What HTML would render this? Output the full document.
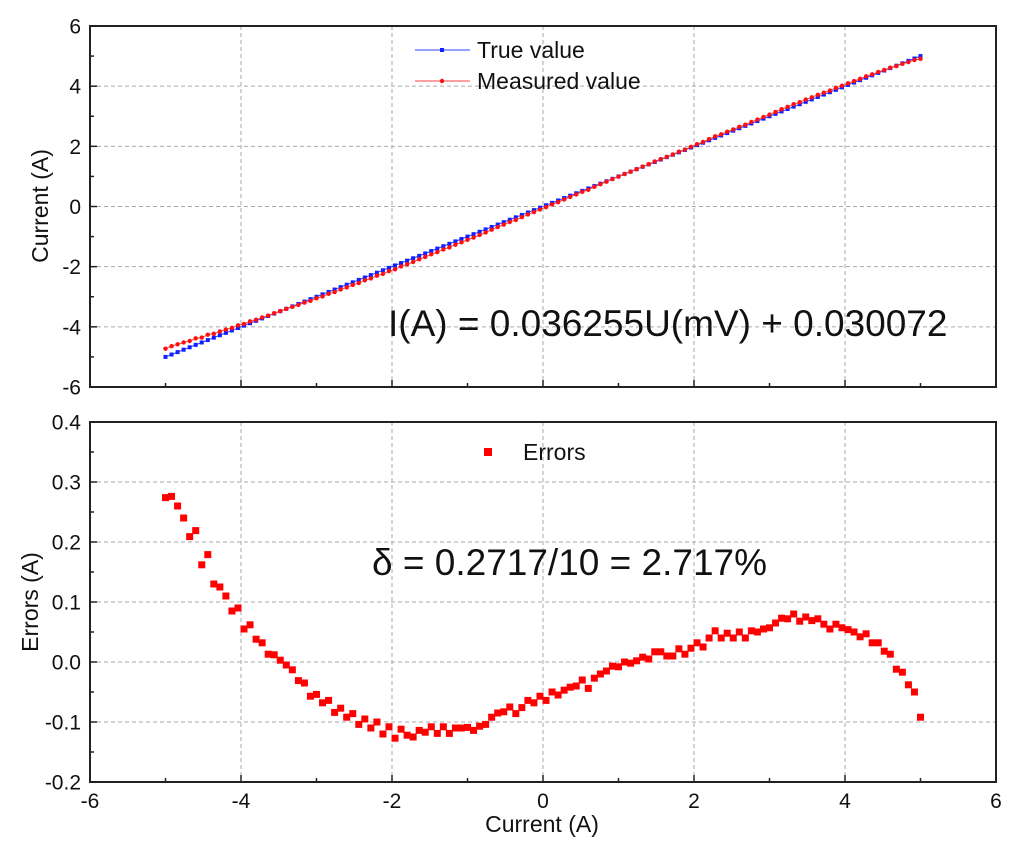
<!DOCTYPE html>
<html><head><meta charset="utf-8">
<style>
html,body{margin:0;padding:0;background:#fff;}
svg{display:block;font-family:"Liberation Sans",Arial,sans-serif;}
</style></head>
<body>
<svg id="chart" width="1024" height="853" viewBox="0 0 1024 853" xmlns="http://www.w3.org/2000/svg">
<rect width="1024" height="853" fill="#fff"/>
</svg>
<script>
const errorValues = [0.274,0.276,0.26,0.24,0.209,0.219,0.162,0.179,0.13,0.125,0.11,0.085,0.09,0.055,0.062,0.038,0.032,0.013,0.012,0.003,-0.005,-0.013,-0.031,-0.035,-0.057,-0.054,-0.068,-0.064,-0.084,-0.077,-0.092,-0.086,-0.104,-0.095,-0.11,-0.1,-0.12,-0.108,-0.127,-0.112,-0.122,-0.125,-0.114,-0.117,-0.108,-0.119,-0.108,-0.119,-0.11,-0.11,-0.109,-0.114,-0.107,-0.104,-0.092,-0.085,-0.083,-0.075,-0.086,-0.076,-0.064,-0.068,-0.057,
-0.064,-0.05,-0.055,-0.047,-0.042,-0.04,-0.03,-0.044,-0.027,-0.02,-0.015,-0.007,-0.008,0,-0.002,0.002,0.008,0.005,0.017,0.017,0.01,0.01,0.022,0.013,0.023,0.032,0.025,0.04,0.052,0.04,0.048,0.04,0.05,0.04,0.052,0.05,0.055,0.057,0.065,0.073,0.072,0.08,0.068,0.075,0.069,0.072,0.063,0.055,0.063,0.057,0.054,0.05,0.042,0.047,0.032,0.032,0.018,0.013,-0.012,-0.017,-0.038,-0.05,-0.092];
const xStart = -5, xEnd = 5;
const xTickLabels = ["-6","-4","-2","0","2","4","6"];
const xTicks = [-6,-4,-2,0,2,4,6];
const topYTicks = [6,4,2,0,-2,-4,-6];
const topYLabels = ["6","4","2","0","-2","-4","-6"];
const botYTicks = [0.4,0.3,0.2,0.1,0.0,-0.1,-0.2];
const botYLabels = ["0.4","0.3","0.2","0.1","0.0","-0.1","-0.2"];

const NS="http://www.w3.org/2000/svg";
const svg=document.getElementById('chart');
function mk(tag,attrs,parent){const e=document.createElementNS(NS,tag);for(const k in attrs)e.setAttribute(k,attrs[k]);(parent||svg).appendChild(e);return e;}

const L=90,R=996;
const X=v=>L+(v+6)/12*(R-L);
const TT=26,TB=387;
const YT=v=>TT+(6-v)/12*(TB-TT);
const BT=422,BB=782;
const YB=v=>BT+(0.4-v)/0.6*(BB-BT);

const n=errorValues.length;
const xs=errorValues.map((_,i)=>xStart+i*(xEnd-xStart)/(n-1));
const trueVals=xs.slice();
const measVals=xs.map((x,i)=>x+errorValues[i]);

function panel(name,top,bottom,yTicks,yLabels,Y,minorStep,yMin,yMax){
  const g=mk('g',{});
  
  
  xTicks.slice(1,-1).forEach(t=>{const l=mk('line',{x1:X(t),x2:X(t),y1:top,y2:bottom,stroke:'#aaa','stroke-width':1,'stroke-dasharray':'4,3'},g);});
  yTicks.slice(1,-1).forEach(t=>{const l=mk('line',{x1:L,x2:R,y1:Y(t),y2:Y(t),stroke:'#aaa','stroke-width':1,'stroke-dasharray':'4,3'},g);});
  for(let v=-6;v<=6.001;v+=1){const major=Math.abs(v%2)<1e-6;mk('line',{x1:X(v),x2:X(v),y1:bottom,y2:bottom-(major?7:4),stroke:'#222','stroke-width':1.5},g);}
  for(let v=yMin;v<=yMax+1e-6;v+=minorStep){const major=yTicks.some(t=>Math.abs(t-v)<1e-6);mk('line',{x1:L,x2:L+(major?7:4),y1:Y(v),y2:Y(v),stroke:'#222','stroke-width':1.5},g);}
  const f=mk('rect',{x:L,y:top,width:R-L,height:bottom-top,fill:'none',stroke:'#222','stroke-width':2},g);
  
  yTicks.forEach((t,i)=>{const tx=mk('text',{x:81,y:Y(t)+7.5,'text-anchor':'end','font-size':21,fill:'#111'},g);tx.textContent=yLabels[i];});
  return g;
}
panel('top-plot',TT,TB,topYTicks,topYLabels,YT,1,-6,6);
panel('bottom-plot',BT,BB,botYTicks,botYLabels,YB,0.05,-0.2,0.4);

xTicks.forEach((t,i)=>{const tx=mk('text',{x:X(t),y:808,'text-anchor':'middle','font-size':21,fill:'#111'});tx.textContent=xTickLabels[i];});

const tp=mk('polyline',{points:xs.map((x,i)=>X(x)+','+YT(trueVals[i])).join(' '),fill:'none',stroke:'#3040ff','stroke-width':1});

xs.forEach((x,i)=>{const r=mk('rect',{x:X(x)-2,y:YT(trueVals[i])-2,width:4,height:4,fill:'#1020ff'});});
const mp=mk('polyline',{points:xs.map((x,i)=>X(x)+','+YT(measVals[i])).join(' '),fill:'none',stroke:'#ff4040','stroke-width':1});

xs.forEach((x,i)=>{const c=mk('circle',{cx:X(x),cy:YT(measVals[i]),r:2.2,fill:'#ff1010'});});

xs.forEach((x,i)=>{const r=mk('rect',{x:X(x)-3.5,y:YB(errorValues[i])-3.5,width:7,height:7,fill:'#ff0000'});});

function txt(x,y,s,size,name,extra){const t=mk('text',Object.assign({x:x,y:y,'font-size':size,fill:'#111'},extra||{}));t.textContent=s;return t;}
mk('line',{x1:415,x2:470,y1:50,y2:50,stroke:'#3040ff','stroke-width':1});
mk('rect',{x:440,y:48,width:4,height:4,fill:'#1020ff'});
txt(477,58,'True value',23,'legend-true-value');
mk('line',{x1:415,x2:470,y1:81,y2:81,stroke:'#ff4040','stroke-width':1});
mk('circle',{cx:442,cy:81,r:2.2,fill:'#ff1010'});
txt(477,89,'Measured value',23,'legend-measured-value');
mk('rect',{x:484,y:448,width:8,height:8,fill:'#ff0000'});
txt(523,460,'Errors',23,'legend-errors');

txt(388,336,'I(A) = 0.036255U(mV) + 0.030072',37,'regression-equation');
txt(372,575,'δ = 0.2717/10 = 2.717%',37,'error-annotation');

txt(542,832,'Current (A)',23,'x-axis-title',{'text-anchor':'middle'});
txt(0,0,'Current (A)',23,'top-y-axis-title',{'text-anchor':'middle',transform:'translate(48,206) rotate(-90)'});
txt(0,0,'Errors (A)',23,'bottom-y-axis-title',{'text-anchor':'middle',transform:'translate(38,602) rotate(-90)'});
</script>
</body></html>
